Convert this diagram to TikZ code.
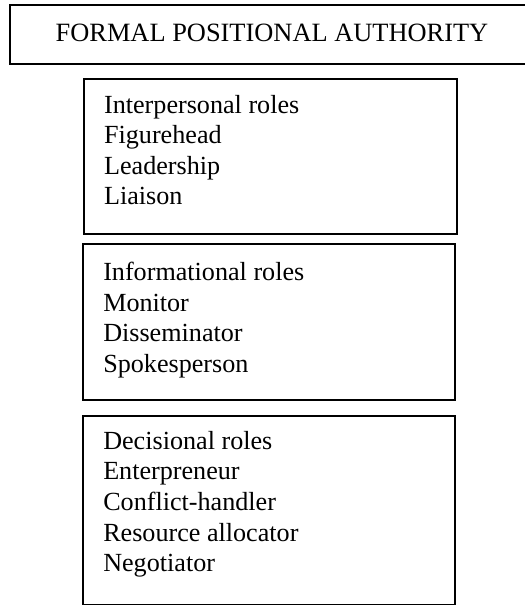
\documentclass[tikz,border=0pt]{standalone}
\usepackage{fontspec}
\setmainfont{Liberation Serif}
\usetikzlibrary{positioning}

\tikzset{
  titlebox/.style={draw, line width=2pt, minimum width=393pt, minimum height=44.25pt,
    text depth=3pt, font=\fontsize{19.8pt}{22.9pt}\selectfont},
  rolebox/.style={draw, line width=1.5pt, anchor=north west, inner sep=0pt},
  roletext/.style={align=left, inner sep=0pt, font=\fontsize{19.6pt}{22.9pt}\selectfont},
}

\begin{document}
\begin{tikzpicture}[x=0.75pt,y=-0.75pt]
\useasboundingbox (0,0) rectangle (524,605);

% Title
\node[titlebox] (authority) at (272,34.5) {FORMAL POSITIONAL AUTHORITY};

% Interpersonal roles
\node[rolebox, minimum width=280.1pt, minimum height=116.25pt] (interbox) at (82.5,78) {};
\node[roletext, below right=12.75pt and 16pt of interbox.north west] (intertext)
  {Interpersonal roles\\Figurehead\\Leadership\\Liaison};

% Informational roles
\node[rolebox, minimum width=279pt, minimum height=117pt] (infobox) at (82,243) {};
\node[roletext, below right=14.25pt and 15.75pt of infobox.north west] (infotext)
  {Informational roles\\Monitor\\Disseminator\\Spokesperson};

% Decisional roles
\node[rolebox, minimum width=279pt, minimum height=141.75pt] (decibox) at (82,415) {};
\node[roletext, below right=12pt and 15.75pt of decibox.north west] (decitext)
  {Decisional roles\\Enterpreneur\\Conflict-handler\\Resource allocator\\Negotiator};
\end{tikzpicture}
\end{document}
